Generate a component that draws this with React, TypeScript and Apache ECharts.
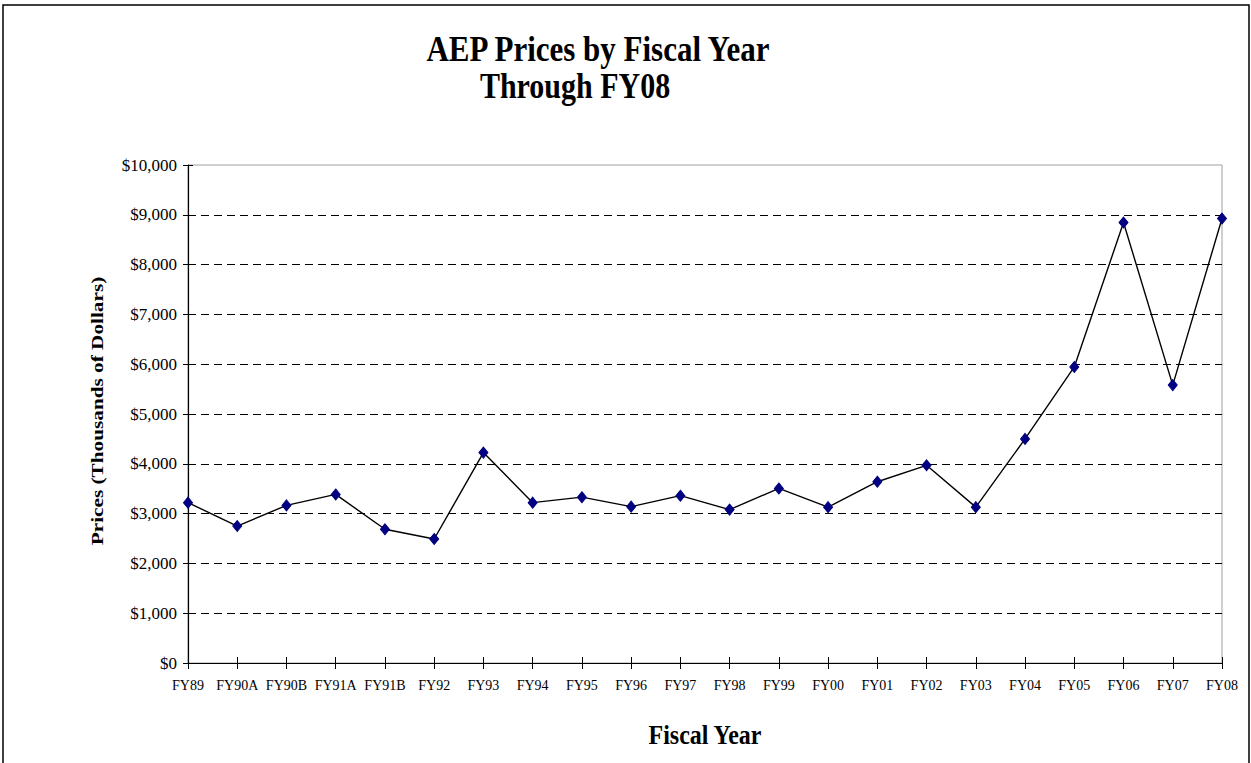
import React, { useEffect, useRef } from "react";
import * as echarts from "echarts";

const categories = [
  "FY89", "FY90A", "FY90B", "FY91A", "FY91B", "FY92", "FY93", "FY94", "FY95", "FY96", "FY97",
  "FY98", "FY99", "FY00", "FY01", "FY02", "FY03", "FY04", "FY05", "FY06", "FY07", "FY08",
];
const prices = [
  3220, 2750, 3165, 3385, 2685, 2490, 4225, 3220, 3330, 3140, 3360,
  3080, 3505, 3130, 3640, 3970, 3130, 4500, 5945, 8845, 5580, 8925,
];
const titleLine1 = "AEP Prices by Fiscal Year";
const titleLine2 = "Through FY08";
const yAxisTitle = "Prices (Thousands of Dollars)";
const xAxisTitle = "Fiscal Year";

const FONT = "'Liberation Serif', 'Times New Roman', serif";

export default function App() {
  const ref = useRef<HTMLDivElement>(null);
  useEffect(() => {
    if (!ref.current) return;
    const chart = echarts.init(ref.current, null, { renderer: "svg" });
    const fmt = (v: number) => "$" + v.toLocaleString("en-US");
    chart.setOption({
      animation: false,
      backgroundColor: "#ffffff",
      textStyle: { fontFamily: FONT },
      grid: {
        left: 188,
        top: 165,
        width: 1034,
        height: 498,
        show: true,
        borderColor: "#a0a0a0",
        borderWidth: 1,
        backgroundColor: "transparent",
      },
      graphic: [
        {
          type: "rect",
          shape: { x: 3, y: 5, width: 1246, height: 770 },
          style: { fill: "none", stroke: "#000", lineWidth: 1.5 },
          silent: true,
        },
        {
          type: "text",
          x: 598,
          y: 49,
          scaleX: 1.0,
          scaleY: 1.18,
          style: {
            text: titleLine1,
            font: `bold 31px ${FONT}`,
            fill: "#000",
            textAlign: "center",
            textVerticalAlign: "middle",
          },
        },
        {
          type: "text",
          x: 575,
          y: 86,
          scaleY: 1.18,
          style: {
            text: titleLine2,
            font: `bold 30px ${FONT}`,
            fill: "#000",
            textAlign: "center",
            textVerticalAlign: "middle",
          },
        },
        {
          type: "text",
          x: 97,
          y: 411,
          rotation: Math.PI / 2,
          scaleX: 1.25,
          style: {
            text: yAxisTitle,
            font: `bold 17px ${FONT}`,
            fill: "#000",
            textAlign: "center",
            textVerticalAlign: "middle",
          },
        },
        {
          type: "text",
          x: 705,
          y: 735,
          scaleY: 1.1,
          style: {
            text: xAxisTitle,
            font: `bold 24px ${FONT}`,
            fill: "#000",
            textAlign: "center",
            textVerticalAlign: "middle",
          },
        },
      ],
      xAxis: [
        {
          type: "category",
          data: categories,
          boundaryGap: false,
          axisLine: { show: true, lineStyle: { color: "#000", width: 1.2 } },
          axisTick: { show: true, length: 6, inside: false, lineStyle: { color: "#000" } },
          axisLabel: {
            interval: 0,
            margin: 15,
            fontSize: 14,
            color: "#000",
            fontFamily: FONT,
          },
          splitLine: { show: false },
        },
        {
          type: "category",
          data: categories,
          boundaryGap: false,
          position: "bottom",
          axisLine: { show: false },
          axisTick: { show: true, length: 6, inside: true, lineStyle: { color: "#000" } },
          axisLabel: { show: false },
          splitLine: { show: false },
        },
      ],
      yAxis: [
        {
          type: "value",
          min: 0,
          max: 10000,
          interval: 1000,
          axisLine: { show: true, lineStyle: { color: "#000", width: 1.2 } },
          axisTick: { show: true, length: 5, inside: false, lineStyle: { color: "#000" } },
          axisLabel: {
            margin: 11,
            fontSize: 17,
            color: "#000",
            fontFamily: FONT,
            formatter: fmt,
          },
          splitLine: {
            show: true,
            showMinLine: false,
            showMaxLine: false,
            lineStyle: { color: "#000", type: [8, 5], width: 1 },
          },
        },
        {
          type: "value",
          min: 0,
          max: 10000,
          interval: 1000,
          position: "left",
          axisLine: { show: false },
          axisTick: { show: true, length: 5, inside: true, lineStyle: { color: "#000" } },
          axisLabel: { show: false },
          splitLine: { show: false },
        },
      ],
      series: [
        {
          type: "line",
          data: prices,
          xAxisIndex: 0,
          yAxisIndex: 0,
          symbol: "diamond",
          symbolSize: [9, 11],
          showAllSymbol: true,
          lineStyle: { color: "#000", width: 1.4 },
          itemStyle: { color: "#000080", borderColor: "#000080" },
          z: 5,
        },
      ],
    });
    return () => chart.dispose();
  }, []);
  return (
    <div
      ref={ref}
      style={{ position: "fixed", left: 0, top: 0, width: 1251, height: 763, background: "#fff" }}
    />
  );
}
